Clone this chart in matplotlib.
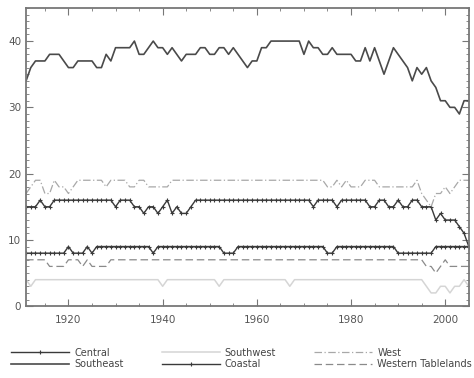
import matplotlib
matplotlib.use("Agg")
import matplotlib.pyplot as plt
from matplotlib.ticker import MultipleLocator

years = list(range(1911, 2006))

southeast = [34, 36, 37, 37, 37, 38, 38, 38, 37, 36,
             36, 37, 37, 37, 37, 36, 36, 38, 37, 39,
             39, 39, 39, 40, 38, 38, 39, 40, 39, 39,
             38, 39, 38, 37, 38, 38, 38, 39, 39, 38,
             38, 39, 39, 38, 39, 38, 37, 36, 37, 37,
             39, 39, 40, 40, 40, 40, 40, 40, 40, 38,
             40, 39, 39, 38, 38, 39, 38, 38, 38, 38,
             37, 37, 39, 37, 39, 37, 35, 37, 39, 38,
             37, 36, 34, 36, 35, 36, 34, 33, 31, 31,
             30, 30, 29, 31, 31]

central = [15, 15, 15, 16, 15, 15, 16, 16, 16, 16,
           16, 16, 16, 16, 16, 16, 16, 16, 16, 15,
           16, 16, 16, 15, 15, 14, 15, 15, 14, 15,
           16, 14, 15, 14, 14, 15, 16, 16, 16, 16,
           16, 16, 16, 16, 16, 16, 16, 16, 16, 16,
           16, 16, 16, 16, 16, 16, 16, 16, 16, 16,
           16, 15, 16, 16, 16, 16, 15, 16, 16, 16,
           16, 16, 16, 15, 15, 16, 16, 15, 15, 16,
           15, 15, 16, 16, 15, 15, 15, 13, 14, 13,
           13, 13, 12, 11, 9]

coastal = ([8] * 9 + [9] + [8] * 3 + [9, 8, 9] + [9] * 11 + [8] + [9] * 14
           + [8] * 3 + [9] * 19 + [8] * 2 + [9] * 13 + [8] * 8 + [9] * 8)

southwest = ([4, 3] + [4] * 27 + [3] + [4] * 11 + [3] + [4] * 14 + [3]
             + [4] * 28 + [3, 2, 2, 3, 3, 2, 3, 3, 4, 3])

west = ([17, 18, 19, 19, 17, 17, 19, 18, 18, 17, 18, 19] + [19] * 5
        + [18, 19, 19, 19, 19, 18, 18, 19, 19, 18, 18, 18, 18, 18, 19]
        + [19] * 32
        + [18, 18, 19, 18, 19, 18, 18, 18, 19, 19, 19, 18] + [18] * 7
        + [19, 17, 16, 15, 17, 17, 18, 17, 18, 19, 19, 19])

western_tablelands = ([7] * 5 + [6] * 4 + [7, 7, 7, 6, 7, 6, 6, 6, 6, 7]
                      + [7] * 66 + [6, 6, 5, 6, 7, 6, 6, 6, 6, 6])

labels = ["Central", "Southeast", "Southwest", "Coastal", "West",
          "Western Tablelands"]

fig = plt.figure(figsize=(4.74, 3.78), dpi=100)
ax = fig.add_axes([0.055, 0.19, 0.934, 0.789])

ax.plot(years, central, color="#3a3a3a", lw=1.0, marker="+", ms=3.5,
        mew=0.8, label=labels[0])
ax.plot(years, southeast, color="#4a4a4a", lw=1.2, label=labels[1])
ax.plot(years, southwest, color="#d5d5d5", lw=1.1, label=labels[2])
ax.plot(years, coastal, color="#3a3a3a", lw=1.0, marker="+", ms=3.0,
        mew=0.8, label=labels[3])
ax.plot(years, west, color="#a8a8a8", lw=0.9, ls=(0, (6, 2, 1, 2)),
        label=labels[4])
ax.plot(years, western_tablelands, color="#8a8a8a", lw=0.9,
        ls=(0, (6, 3)), label=labels[5])

ax.set_xlim(1911, 2005)
ax.set_ylim(0, 45)
ax.xaxis.set_major_locator(MultipleLocator(20))
ax.xaxis.set_minor_locator(MultipleLocator(5))
ax.yaxis.set_major_locator(MultipleLocator(10))
ax.yaxis.set_minor_locator(MultipleLocator(1))
ax.tick_params(which="both", direction="in", top=True, right=True,
               color="#777777", labelcolor="#555555", labelsize=7.5)
ax.tick_params(which="major", length=5, width=0.8)
ax.tick_params(which="minor", length=2.5, width=0.6)
ax.tick_params(axis="x", pad=6)
ax.tick_params(axis="y", labelright=False)
for s in ax.spines.values():
    s.set_color("#777777")
    s.set_linewidth(1.3)

fig.legend(loc="lower left", bbox_to_anchor=(0.005, 0.0), ncol=3,
           frameon=False, fontsize=7, handlelength=6.0,
           columnspacing=3.9, handletextpad=0.5, labelspacing=0.15,
           labelcolor="#444444")

fig.savefig("out.png", dpi=100)
